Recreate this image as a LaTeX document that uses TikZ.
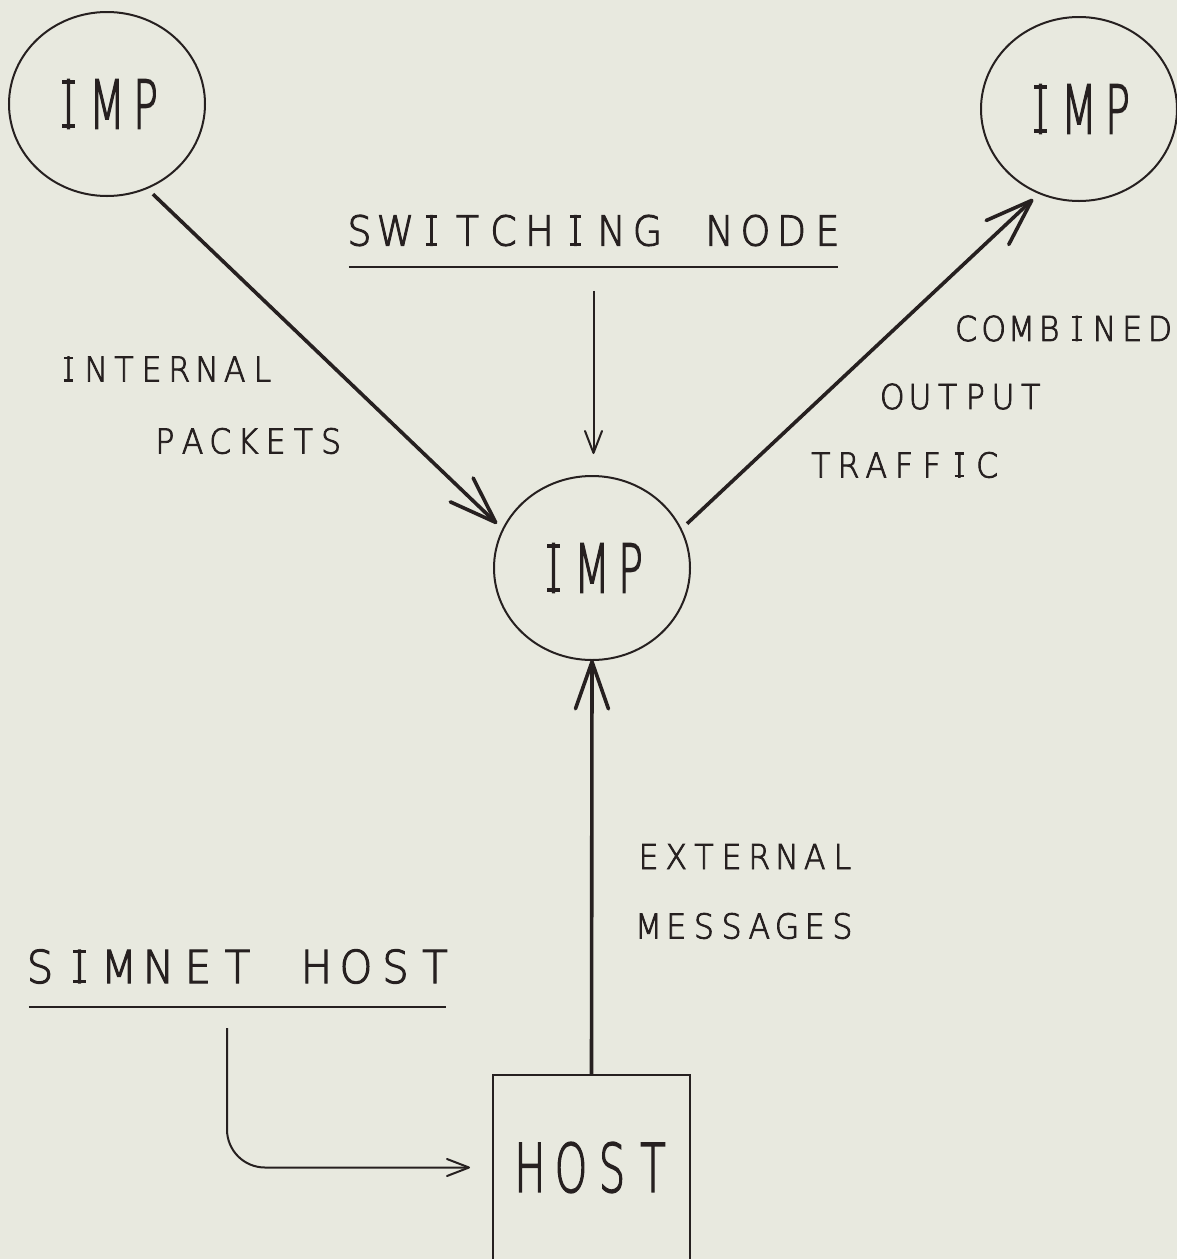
\documentclass[tikz,border=0pt]{standalone}
\usepackage{fontspec}
\usetikzlibrary{arrows.meta,shapes.geometric}
\newfontfamily\plotfont[FakeBold=2.5]{DejaVu Sans ExtraLight}
\definecolor{bgcol}{RGB}{232,233,223}
\definecolor{inkcol}{RGB}{38,32,32}
\newlength\barw
\newlength\bart
\newcommand\barI{%
  \setbox0=\hbox{I}%
  \setlength\barw{0.30em}\setlength\bart{0.06em}%
  \hbox to \wd0{\hss
    \rlap{\kern-.5\barw\rule{\barw}{\bart}}%
    \rlap{\kern-.5\barw\rule[\dimexpr\ht0-\bart\relax]{\barw}{\bart}}%
    \hss}%
  \kern-\wd0 \box0 }
\ExplSyntaxOn
\NewDocumentCommand\spacedtext{ O{1} m m }
  { \tl_map_inline:nn {#3}
    { \makebox[#2]{\scalebox{#1}[1]{ \str_if_eq:nnTF {##1} {I} {\barI} {##1} }} } }
\ExplSyntaxOff
\begin{document}
\begin{tikzpicture}[x=1pt,y=-1pt,
  imp/.style={draw=inkcol, line width=2pt, ellipse, minimum width=196pt,
    minimum height=184pt, inner sep=0pt, outer sep=8pt, text=inkcol,
    font=\plotfont\fontsize{67}{70}\selectfont},
  hostbox/.style={rectangle, minimum width=197pt, minimum height=185pt,
    inner sep=0pt, outer sep=0pt, text=inkcol,
    font=\plotfont\fontsize{67}{70}\selectfont},
  boxline/.style={draw=inkcol, line width=2pt},
  lbl/.style={inner sep=0pt, text=inkcol,
    font=\plotfont\fontsize{34.3}{40}\selectfont},
  titlelbl/.style={inner xsep=0pt, text=inkcol},
  uline/.style={draw=inkcol, line width=2.5pt},
  bigarrow/.style={draw=inkcol, line width=3.6pt,
    -{Straight Barb[length=47pt,width=33pt,round]}},
  thinarrow/.style={draw=inkcol, line width=2pt,
    -{Straight Barb[length=22pt,width=17pt,round]}}
]
\useasboundingbox (0,0) rectangle (1177,1259);
\fill[bgcol] (0,0) rectangle (1177,1259);

% IMP nodes
\node[imp] (tl)  at (107,104)    {\spacedtext[0.62]{38.5pt}{IMP}};
\node[imp] (tr)  at (1079,109)   {\spacedtext[0.62]{38.5pt}{IMP}};
\node[imp] (mid) at (592,568)    {\spacedtext[0.62]{38.5pt}{IMP}};

% HOST box
\node[hostbox] (host) at (591.5,1167.5) {\spacedtext[0.62]{41pt}{HOST}};
\draw[boxline] ([yshift=-15pt]host.south west) -- (host.north west)
  -- (host.north east) -- ([yshift=-15pt]host.south east);

% titles
\node[titlelbl, inner ysep=20.5pt, font=\plotfont\fontsize{41.2}{46}\selectfont]
  (sw) at (593.5,230.5) {\spacedtext[0.92]{36pt}{SWITCHING~NODE}};
\draw[uline, shorten <=7.5pt, shorten >=7.5pt] (sw.south west) -- (sw.south east);

\node[titlelbl, inner ysep=23pt, font=\plotfont\fontsize{45.3}{50}\selectfont]
  (sim) at (237.5,966.5) {\spacedtext[0.92]{39.5pt}{SIMNET~HOST}};
\draw[uline, shorten <=8.7pt, shorten >=8.7pt] (sim.south west) -- (sim.south east);

% labels
\node[lbl] (internal) at (165.5,369)  {\spacedtext[0.92]{27.7pt}{INTERNAL}};
\node[lbl] (packets)  at (248,441)    {\spacedtext[0.92]{27.7pt}{PACKETS}};
\node[lbl] (combined) at (1063,328.5) {\spacedtext[0.92]{27.7pt}{COMBINED}};
\node[lbl] (output)   at (961.5,396.5){\spacedtext[0.92]{27.7pt}{OUTPUT}};
\node[lbl] (traffic)  at (904,465)    {\spacedtext[0.92]{27.7pt}{TRAFFIC}};
\node[lbl] (external) at (745.5,856.5){\spacedtext[0.92]{27.7pt}{EXTERNAL}};
\node[lbl] (messages) at (745.5,926)  {\spacedtext[0.92]{27.7pt}{MESSAGES}};

% connectors
\draw[bigarrow] (tl.-63) -- (mid.155);
\draw[bigarrow] (mid.25) -- (tr.-117);
\draw[bigarrow, shorten >=-8pt] (host.north) -- (mid.south);
\draw[thinarrow, shorten <=24pt, shorten >=14pt] (sw.south) -- (sw.south |- mid.north);
\coordinate (simstart) at (227,1028);
\draw[thinarrow, rounded corners=38pt, shorten >=23pt] (simstart) |- (host.west);
\end{tikzpicture}
\end{document}
